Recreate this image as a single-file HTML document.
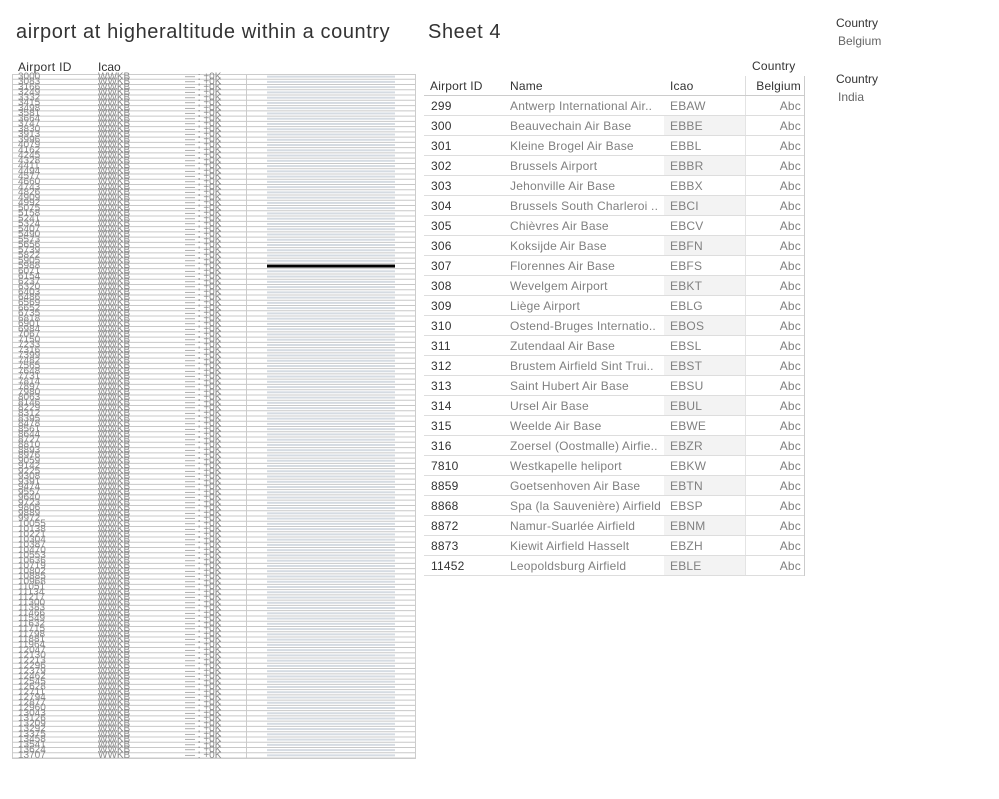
<!DOCTYPE html>
<html><head><meta charset="utf-8">
<style>
body{margin:0;width:999px;height:799px;background:#fff;font-family:"Liberation Sans","DejaVu Sans",sans-serif;position:relative;overflow:hidden;color:#333}
.a{position:absolute;white-space:nowrap}
.tbl .c{position:absolute;font-size:12px;white-space:nowrap;letter-spacing:0.2px}
</style></head><body>
<div class="a" style="left:16px;top:21px;font-size:20px;letter-spacing:0.6px;color:#333">airport at higheraltitude within a country</div>
<div class="a" style="left:428px;top:21px;font-size:20px;letter-spacing:0.6px;color:#333">Sheet 4</div>
<div class="a" style="left:836px;top:16px;font-size:12px;color:#333">Country</div>
<div class="a" style="left:838px;top:34px;font-size:12px;color:#666">Belgium</div>
<div class="a" style="left:836px;top:72px;font-size:12px;color:#333">Country</div>
<div class="a" style="left:838px;top:90px;font-size:12px;color:#666">India</div>

<div class="a" style="left:18px;top:60px;font-size:12px;letter-spacing:0.3px">Airport ID</div>
<div class="a" style="left:98px;top:60px;font-size:12px">Icao</div>
<svg id="left" class="a" style="left:0;top:0" width="420" height="799"></svg>

<div class="tbl" id="tbl"></div>

<script>
const ROWS = 130;
const altValues = Array(ROWS).fill(10);
const highlightIndex = 36;
const maxAlt = 10;
const svg = document.getElementById('left');
const NS = 'http://www.w3.org/2000/svg';
const top0 = 74, bottom0 = 758, rh = (bottom0 - top0) / ROWS;
const x0 = 267, x1 = 395;
function xs(v){return x0 + (x1 - x0) * v / maxAlt;}
function mk(t, a){const e=document.createElementNS(NS,t);for(const k in a)e.setAttribute(k,a[k]);svg.appendChild(e);return e;}
const frame = mk('rect',{x:12.5,y:74.5,width:403,height:684,fill:'none',stroke:'#ccc'});


const vline = mk('line',{x1:246.5,y1:74,x2:246.5,y2:758,stroke:'#ccc'});


for(let i=0;i<ROWS;i++){
  const y = top0 + i*rh;
  const ln = mk('line',{x1:12,y1:y+rh,x2:415,y2:y+rh,stroke:'#c8c8c8','stroke-width':1});
  
  
  const g = mk('text',{x:18,y:y+rh,'font-size':10,fill:'#8a8a8a','font-family':'Liberation Sans'});
  g.textContent = String(3000 + i*83);
  
  
  const g2 = mk('text',{x:98,y:y+rh,'font-size':10,fill:'#8a8a8a','font-family':'Liberation Sans'});
  g2.textContent = 'WWKB';
  
  
  const g3 = mk('text',{x:185,y:y+rh,'font-size':10,fill:'#8a8a8a','font-family':'Liberation Sans'});
  g3.textContent = '—   :  +0K';
  
  
  const hl = i===highlightIndex;
  const b = mk('rect',{x:x0,y:y+rh/2-(hl?1.5:1),width:xs(altValues[i])-x0,height:hl?3:2,fill:hl?'#000':'#d5dbe2'});
  
  
}

const ids=['299','300','301','302','303','304','305','306','307','308','309','310','311','312','313','314','315','316','7810','8859','8868','8872','8873','11452'];
const names=['Antwerp International Air..','Beauvechain Air Base','Kleine Brogel Air Base','Brussels Airport','Jehonville Air Base','Brussels South Charleroi ..','Chièvres Air Base','Koksijde Air Base','Florennes Air Base','Wevelgem Airport','Liège Airport','Ostend-Bruges Internatio..','Zutendaal Air Base','Brustem Airfield Sint Trui..','Saint Hubert Air Base','Ursel Air Base','Weelde Air Base','Zoersel (Oostmalle) Airfie..','Westkapelle heliport','Goetsenhoven Air Base','Spa (la Sauvenière) Airfield','Namur-Suarlée Airfield','Kiewit Airfield Hasselt','Leopoldsburg Airfield'];
const icaos=['EBAW','EBBE','EBBL','EBBR','EBBX','EBCI','EBCV','EBFN','EBFS','EBKT','EBLG','EBOS','EBSL','EBST','EBSU','EBUL','EBWE','EBZR','EBKW','EBTN','EBSP','EBNM','EBZH','EBLE'];
const T=document.getElementById('tbl');
function add(html){T.insertAdjacentHTML('beforeend',html);}
add('<div class="c" style="left:752px;top:59px;color:#333">Country</div>');
add('<div class="c" style="left:745px;top:76px;width:59px;height:19px;border-left:1px solid #ddd;box-sizing:border-box"><span style="position:absolute;right:3px;top:3px">Belgium</span></div>');
add('<div class="c" style="left:430px;top:79px">Airport ID</div>');
add('<div class="c" style="left:510px;top:79px">Name</div>');
add('<div class="c" style="left:670px;top:79px">Icao</div>');
add('<div class="c" style="left:424px;top:95px;width:380px;height:1px;background:#ccc"></div>');
add('<div class="c" style="left:804px;top:76px;width:1px;height:500px;background:#ccc"></div>');
add('<div class="c" style="left:745px;top:96px;width:1px;height:480px;background:#e4e4e4"></div>');
for(let i=0;i<ids.length;i++){
  const y=96+i*20;
  if(i%2===1) add(`<div class="c" style="left:664px;top:${y}px;width:81px;height:20px;background:#f3f3f3"></div>`);
  add(`<div class="c" style="left:424px;top:${y+19}px;width:380px;height:1px;background:#ddd"></div>`);
  add(`<div class="c" style="left:431px;top:${y+3}px;color:#333">${ids[i]}</div>`);
  add(`<div class="c" style="left:510px;top:${y+3}px;color:#808080">${names[i]}</div>`);
  add(`<div class="c" style="left:670px;top:${y+3}px;color:#808080">${icaos[i]}</div>`);
  add(`<div class="c" style="left:760px;width:41px;text-align:right;top:${y+3}px;color:#808080">Abc</div>`);
}
</script>
</body></html>
